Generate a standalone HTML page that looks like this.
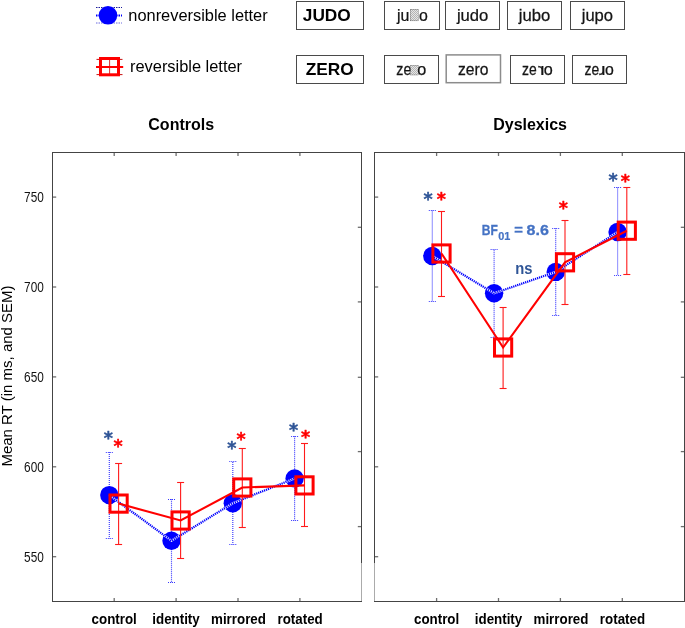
<!DOCTYPE html>
<html lang="en"><head><meta charset="utf-8"><title>Mean RT chart</title>
<style>
html,body{margin:0;padding:0;background:#fff;}
body{width:685px;height:628px;overflow:hidden;position:relative;font-family:"Liberation Sans",sans-serif;}
svg{position:absolute;left:0;top:0;display:block;}
text{font-family:"Liberation Sans",sans-serif;}
.ast{font-family:"DejaVu Sans","Liberation Sans",sans-serif;font-weight:bold;}
</style></head><body>
<svg width="685" height="628" viewBox="0 0 685 628">
<rect width="685" height="628" fill="#fff"/>
<defs><pattern id="chk" width="2" height="2" patternUnits="userSpaceOnUse"><rect width="2" height="2" fill="#e6e6e6"/><rect width="1" height="1" fill="#b4b4b4"/><rect x="1" y="1" width="1" height="1" fill="#b4b4b4"/></pattern></defs>

<g id="legend">
<line x1="96" y1="7.5" x2="122" y2="7.5" stroke="#1a1a9a" stroke-width="1" stroke-dasharray="1.5 1"/>
<line x1="96" y1="15.5" x2="122" y2="15.5" stroke="#0000ff" stroke-width="2" stroke-dasharray="1.5 1"/>
<line x1="96" y1="23" x2="122" y2="23" stroke="#6a6ae0" stroke-width="1" stroke-dasharray="1.5 1"/>
<circle cx="108" cy="15.3" r="9.3" fill="#0000ff"/>
<text x="128.3" y="21" font-size="16.4" fill="#000">nonreversible letter</text>
<line x1="96.5" y1="59.4" x2="122.5" y2="59.4" stroke="#c81010" stroke-width="1"/>
<line x1="96.5" y1="74.6" x2="122.5" y2="74.6" stroke="#c81010" stroke-width="1"/>
<line x1="109.6" y1="58" x2="109.6" y2="75" stroke="#d83030" stroke-width="1"/>
<rect x="100.5" y="58.5" width="18" height="16.3" fill="none" stroke="#ff0000" stroke-width="3"/>
<line x1="96" y1="67" x2="123.2" y2="67" stroke="#ff0000" stroke-width="2"/>
<text x="130" y="72.3" font-size="16.4" fill="#000">reversible letter</text>
<rect x="296.5" y="1.5" width="67.0" height="28.0" fill="#fff" stroke="#4a4a4a" stroke-width="1"/>
<text x="326.8" y="20.9" font-size="17.3" font-weight="bold" text-anchor="middle">JUDO</text>
<rect x="296.5" y="55.5" width="67.0" height="28.0" fill="#fff" stroke="#4a4a4a" stroke-width="1"/>
<text x="329.8" y="74.7" font-size="17.3" font-weight="bold" text-anchor="middle">ZERO</text>
</g>
<g id="words" font-size="16.2" fill="#151515" stroke="#151515" stroke-width="0.25">
<rect x="384.5" y="1.5" width="55.0" height="28.0" fill="#fff" stroke="#4a4a4a" stroke-width="1"/>
<rect x="445.5" y="1.5" width="54.0" height="28.0" fill="#fff" stroke="#4a4a4a" stroke-width="1"/>
<rect x="507.5" y="1.5" width="54.0" height="28.0" fill="#fff" stroke="#4a4a4a" stroke-width="1"/>
<rect x="570.5" y="1.5" width="54.0" height="28.0" fill="#fff" stroke="#4a4a4a" stroke-width="1"/>
<rect x="384.5" y="55.5" width="54.0" height="28.0" fill="#fff" stroke="#4a4a4a" stroke-width="1"/>
<rect x="446.2" y="54.9" width="54.3" height="27.8" fill="#fff" stroke="#8c8c8c" stroke-width="1.5"/>
<rect x="510.5" y="55.5" width="54.0" height="28.0" fill="#fff" stroke="#4a4a4a" stroke-width="1"/>
<rect x="572.5" y="55.5" width="54.0" height="28.0" fill="#fff" stroke="#4a4a4a" stroke-width="1"/>
<text transform="translate(456.9 20.9) scale(1.027 1)">judo</text>
<text transform="translate(518.7 20.9) scale(1.03 1)">jubo</text>
<text transform="translate(581.7 20.9) scale(1.024 1)">jupo</text>
<text transform="translate(396.9 20.9) scale(0.984 1)">ju</text>
<rect x="410.2" y="9.2" width="8" height="11.7" fill="url(#chk)"/>
<text transform="translate(419.1 20.9) scale(0.98 1)">o</text>
<text transform="translate(457.9 74.5) scale(0.968 1)">zero</text>
<text transform="translate(396.3 74.5) scale(0.877 1)">ze</text>
<rect x="410.7" y="65.3" width="7.6" height="9.7" fill="url(#chk)"/>
<text transform="translate(417.3 74.5) scale(1.0 1)">o</text>
<text transform="translate(522.0 74.5) scale(0.86 1)">ze</text>
<text transform="translate(544.5 74.5) scale(-1.2 1)">r</text>
<text transform="translate(543.8 74.5) scale(1.0 1)">o</text>
<text transform="translate(584.5 74.5) scale(0.86 1)">ze</text>
<text transform="translate(605.5 65.7) scale(-1.2 -1)">r</text>
<text transform="translate(604.9 74.5) scale(0.98 1)">o</text>
</g>
<text x="181.2" y="129.5" font-size="16" font-weight="bold" text-anchor="middle">Controls</text>
<text x="530.1" y="129.5" font-size="16" font-weight="bold" text-anchor="middle">Dyslexics</text>
<text transform="translate(11.9 376) rotate(-90)" font-size="15" text-anchor="middle">Mean RT (in ms, and SEM)</text>
<g stroke="#444444" stroke-width="1" fill="none" shape-rendering="crispEdges">
<path d="M52 601.5 H362"/>
<path d="M52 152.5 H362"/>
</g>
<g stroke="#444444" stroke-width="1" fill="none" shape-rendering="crispEdges">
<path d="M374 601.5 H685"/>
<path d="M374 152.5 H685"/>
</g>
<g stroke="#444444" stroke-width="1" shape-rendering="crispEdges">
<path d="M52.5 152 V602"/>
<path d="M361.5 152 V563"/>
<path d="M374.5 152 V563"/>
<path d="M684.5 152 V602"/>
</g>
<g stroke="#ababab" stroke-width="1" shape-rendering="crispEdges"><path d="M361.5 563 V601"/><path d="M374.5 563 V601"/></g>
<g stroke="#6e6e6e" stroke-width="1.3">
<path d="M53 197.1 H56.2"/><path d="M375 197.1 H378.2"/>
<path d="M53 287.0 H56.2"/><path d="M375 287.0 H378.2"/>
<path d="M53 376.9 H56.2"/><path d="M375 376.9 H378.2"/>
<path d="M53 466.8 H56.2"/><path d="M375 466.8 H378.2"/>
<path d="M53 556.7 H56.2"/><path d="M375 556.7 H378.2"/>
<path d="M357.8 227.3 H361"/><path d="M680.8 227.3 H684"/>
<path d="M357.8 301.9 H361"/><path d="M680.8 301.9 H684"/>
<path d="M357.8 377.3 H361"/><path d="M680.8 377.3 H684"/>
<path d="M357.8 451.6 H361"/><path d="M680.8 451.6 H684"/>
<path d="M357.8 526.6 H361"/><path d="M680.8 526.6 H684"/>
<path d="M114.2 153 V156"/><path d="M114.2 598 V601"/>
<path d="M176.1 153 V156"/><path d="M176.1 598 V601"/>
<path d="M238 153 V156"/><path d="M238 598 V601"/>
<path d="M299.9 153 V156"/><path d="M299.9 598 V601"/>
<path d="M436.6 153 V156"/><path d="M436.6 598 V601"/>
<path d="M498.5 153 V156"/><path d="M498.5 598 V601"/>
<path d="M560.4 153 V156"/><path d="M560.4 598 V601"/>
<path d="M622.3 153 V156"/><path d="M622.3 598 V601"/>
</g>
<text transform="translate(43.8 202.3) scale(0.81 1)" font-size="14.6" text-anchor="end" fill="#111">750</text>
<text transform="translate(43.8 292.2) scale(0.81 1)" font-size="14.6" text-anchor="end" fill="#111">700</text>
<text transform="translate(43.8 382.1) scale(0.81 1)" font-size="14.6" text-anchor="end" fill="#111">650</text>
<text transform="translate(43.8 472.0) scale(0.81 1)" font-size="14.6" text-anchor="end" fill="#111">600</text>
<text transform="translate(43.8 561.9) scale(0.81 1)" font-size="14.6" text-anchor="end" fill="#111">550</text>
<text transform="translate(114.2 623.6) scale(0.868 1)" font-size="15.4" font-weight="bold" text-anchor="middle">control</text>
<text transform="translate(176 623.6) scale(0.868 1)" font-size="15.4" font-weight="bold" text-anchor="middle">identity</text>
<text transform="translate(238.5 623.6) scale(0.868 1)" font-size="15.4" font-weight="bold" text-anchor="middle">mirrored</text>
<text transform="translate(300.1 623.6) scale(0.868 1)" font-size="15.4" font-weight="bold" text-anchor="middle">rotated</text>
<text transform="translate(436.6 623.6) scale(0.868 1)" font-size="15.4" font-weight="bold" text-anchor="middle">control</text>
<text transform="translate(498.5 623.6) scale(0.868 1)" font-size="15.4" font-weight="bold" text-anchor="middle">identity</text>
<text transform="translate(561 623.6) scale(0.868 1)" font-size="15.4" font-weight="bold" text-anchor="middle">mirrored</text>
<text transform="translate(622.5 623.6) scale(0.868 1)" font-size="15.4" font-weight="bold" text-anchor="middle">rotated</text>
<g stroke="#3838ff" stroke-width="1.15" stroke-dasharray="1 1" fill="none"><path d="M109.3 452.1 V538.4"/><path d="M105.8 452.5 H112.8"/><path d="M105.8 538.5 H112.8"/></g>
<g stroke="#3838ff" stroke-width="1.15" stroke-dasharray="1 1" fill="none"><path d="M171.5 499.3 V582.3"/><path d="M168.0 499.5 H175.0"/><path d="M168.0 582.5 H175.0"/></g>
<g stroke="#3838ff" stroke-width="1.15" stroke-dasharray="1 1" fill="none"><path d="M232.8 461.9 V544.5"/><path d="M229.3 461.5 H236.3"/><path d="M229.3 544.5 H236.3"/></g>
<g stroke="#3838ff" stroke-width="1.15" stroke-dasharray="1 1" fill="none"><path d="M294.6 436.3 V520.5"/><path d="M291.1 436.5 H298.1"/><path d="M291.1 520.5 H298.1"/></g>
<circle cx="109.3" cy="495.1" r="9.2" fill="#0000ff"/>
<circle cx="171.5" cy="540.8" r="9.2" fill="#0000ff"/>
<circle cx="232.8" cy="503.2" r="9.2" fill="#0000ff"/>
<circle cx="294.6" cy="478.4" r="9.2" fill="#0000ff"/>
<polyline points="109.3,495.1 171.5,540.8 232.8,503.2 294.6,478.4" fill="none" stroke="#fff" stroke-width="2.2"/>
<polyline points="109.3,495.1 171.5,540.8 232.8,503.2 294.6,478.4" fill="none" stroke="#0000ff" stroke-width="2.2" stroke-dasharray="1.25 0.85"/>
<g stroke="#ff1a1a" stroke-width="1.1" fill="none"><path d="M118.6 463.5 V544.5"/><path d="M115.1 463.5 H122.1"/><path d="M115.1 544.5 H122.1"/></g>
<g stroke="#ff1a1a" stroke-width="1.1" fill="none"><path d="M180.6 482.5 V558.5"/><path d="M177.1 482.5 H184.1"/><path d="M177.1 558.5 H184.1"/></g>
<g stroke="#ff1a1a" stroke-width="1.1" fill="none"><path d="M242.3 448.5 V527.5"/><path d="M238.8 448.5 H245.8"/><path d="M238.8 527.5 H245.8"/></g>
<g stroke="#ff1a1a" stroke-width="1.1" fill="none"><path d="M304.5 443.5 V526.5"/><path d="M301.0 443.5 H308.0"/><path d="M301.0 526.5 H308.0"/></g>
<polyline points="118.6,503.6 180.6,520.5 242.3,487.5 304.5,485.4" fill="none" stroke="#ff0000" stroke-width="2.1" stroke-linejoin="miter"/>
<rect x="110.0" y="495.0" width="17.2" height="17.2" fill="none" stroke="#ff0000" stroke-width="3"/>
<rect x="172.0" y="511.9" width="17.2" height="17.2" fill="none" stroke="#ff0000" stroke-width="3"/>
<rect x="233.70000000000002" y="478.9" width="17.2" height="17.2" fill="none" stroke="#ff0000" stroke-width="3"/>
<rect x="295.9" y="476.79999999999995" width="17.2" height="17.2" fill="none" stroke="#ff0000" stroke-width="3"/>
<g stroke="#3838ff" stroke-width="1.15" stroke-dasharray="1 1" fill="none"><path d="M432.3 210.4 V301.3"/><path d="M428.8 210.5 H435.8"/><path d="M428.8 301.5 H435.8"/></g>
<g stroke="#3838ff" stroke-width="1.15" stroke-dasharray="1 1" fill="none"><path d="M494.1 249.7 V337"/><path d="M490.6 249.5 H497.6"/><path d="M490.6 337.5 H497.6"/></g>
<g stroke="#3838ff" stroke-width="1.15" stroke-dasharray="1 1" fill="none"><path d="M555.7 228.3 V315.5"/><path d="M552.2 228.5 H559.2"/><path d="M552.2 315.5 H559.2"/></g>
<g stroke="#3838ff" stroke-width="1.15" stroke-dasharray="1 1" fill="none"><path d="M617.6 187.4 V275.3"/><path d="M614.1 187.5 H621.1"/><path d="M614.1 275.5 H621.1"/></g>
<circle cx="432.3" cy="256" r="9.2" fill="#0000ff"/>
<circle cx="494.1" cy="293.3" r="9.2" fill="#0000ff"/>
<circle cx="555.7" cy="271.9" r="9.2" fill="#0000ff"/>
<circle cx="617.6" cy="232" r="9.2" fill="#0000ff"/>
<polyline points="432.3,256 494.1,293.3 555.7,271.9 617.6,232" fill="none" stroke="#fff" stroke-width="2.2"/>
<polyline points="432.3,256 494.1,293.3 555.7,271.9 617.6,232" fill="none" stroke="#0000ff" stroke-width="2.2" stroke-dasharray="1.25 0.85"/>
<g stroke="#ff1a1a" stroke-width="1.1" fill="none"><path d="M441.5 211.5 V296.5"/><path d="M438.0 211.5 H445.0"/><path d="M438.0 296.5 H445.0"/></g>
<g stroke="#ff1a1a" stroke-width="1.1" fill="none"><path d="M503.1 307.5 V388.5"/><path d="M499.6 307.5 H506.6"/><path d="M499.6 388.5 H506.6"/></g>
<g stroke="#ff1a1a" stroke-width="1.1" fill="none"><path d="M565.0 220.5 V304.5"/><path d="M561.5 220.5 H568.5"/><path d="M561.5 304.5 H568.5"/></g>
<g stroke="#ff1a1a" stroke-width="1.1" fill="none"><path d="M626.8 187.5 V274.5"/><path d="M623.3 187.5 H630.3"/><path d="M623.3 274.5 H630.3"/></g>
<polyline points="441.5,253.5 503.1,347.5 565.0,262.3 626.8,230.7" fill="none" stroke="#ff0000" stroke-width="2.1" stroke-linejoin="miter"/>
<rect x="432.9" y="244.9" width="17.2" height="17.2" fill="none" stroke="#ff0000" stroke-width="3"/>
<rect x="494.5" y="338.9" width="17.2" height="17.2" fill="none" stroke="#ff0000" stroke-width="3"/>
<rect x="556.4" y="253.70000000000002" width="17.2" height="17.2" fill="none" stroke="#ff0000" stroke-width="3"/>
<rect x="618.1999999999999" y="222.1" width="17.2" height="17.2" fill="none" stroke="#ff0000" stroke-width="3"/>
<text class="ast" x="108.4" y="443.5" font-size="17.5" text-anchor="middle" fill="#2f5597" stroke="#2f5597" stroke-width="0.45" stroke-linejoin="round">*</text>
<text class="ast" x="231.9" y="454.20000000000005" font-size="17.5" text-anchor="middle" fill="#2f5597" stroke="#2f5597" stroke-width="0.45" stroke-linejoin="round">*</text>
<text class="ast" x="293.7" y="435.6" font-size="17.5" text-anchor="middle" fill="#2f5597" stroke="#2f5597" stroke-width="0.45" stroke-linejoin="round">*</text>
<text class="ast" x="428.1" y="205.0" font-size="17.5" text-anchor="middle" fill="#2f5597" stroke="#2f5597" stroke-width="0.45" stroke-linejoin="round">*</text>
<text class="ast" x="613" y="185.6" font-size="17.5" text-anchor="middle" fill="#2f5597" stroke="#2f5597" stroke-width="0.45" stroke-linejoin="round">*</text>
<text class="ast" x="118.2" y="452.3" font-size="17.5" text-anchor="middle" fill="#ff0000" stroke="#ff0000" stroke-width="0.45" stroke-linejoin="round">*</text>
<text class="ast" x="241.2" y="444.90000000000003" font-size="17.5" text-anchor="middle" fill="#ff0000" stroke="#ff0000" stroke-width="0.45" stroke-linejoin="round">*</text>
<text class="ast" x="305.6" y="443.1" font-size="17.5" text-anchor="middle" fill="#ff0000" stroke="#ff0000" stroke-width="0.45" stroke-linejoin="round">*</text>
<text class="ast" x="441.3" y="205.0" font-size="17.5" text-anchor="middle" fill="#ff0000" stroke="#ff0000" stroke-width="0.45" stroke-linejoin="round">*</text>
<text class="ast" x="563.4" y="213.79999999999998" font-size="17.5" text-anchor="middle" fill="#ff0000" stroke="#ff0000" stroke-width="0.45" stroke-linejoin="round">*</text>
<text class="ast" x="625.4" y="186.6" font-size="17.5" text-anchor="middle" fill="#ff0000" stroke="#ff0000" stroke-width="0.45" stroke-linejoin="round">*</text>
<text transform="translate(481.8 235.2) scale(0.86 1)" font-size="14" font-weight="bold" fill="#4472c4" stroke="#4472c4" stroke-width="0.3">BF</text>
<text x="498.3" y="239.6" font-size="10.9" font-weight="bold" fill="#4472c4" stroke="#4472c4" stroke-width="0.2">01</text>
<text x="514.2" y="235.2" font-size="14.8" font-weight="bold" fill="#4472c4" stroke="#4472c4" stroke-width="0.3">=</text>
<text transform="translate(548.8 235.2) scale(1.08 1)" font-size="14.8" font-weight="bold" text-anchor="end" fill="#4472c4" stroke="#4472c4" stroke-width="0.3">8.6</text>
<text transform="translate(515.3 274) scale(0.87 1)" font-size="17" font-weight="bold" fill="#2f5597">ns</text>
</svg></body></html>
